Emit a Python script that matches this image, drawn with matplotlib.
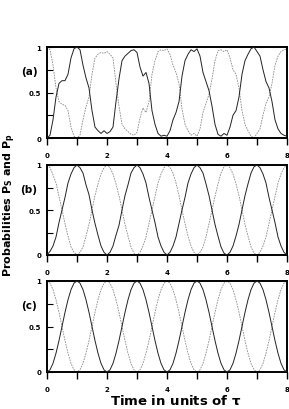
import matplotlib
matplotlib.use("Agg")
import matplotlib.pyplot as plt

# time grid (units of tau), read at 0.1 steps
t = [round(0.1 * i, 1) for i in range(81)]

# panel (a)
a_solid = [0.00, 0.03, 0.20, 0.45, 0.60, 0.63, 0.63, 0.70, 0.88, 0.98,
           1.00, 0.97, 0.80, 0.66, 0.55, 0.30, 0.12, 0.08, 0.05, 0.08,
           0.05, 0.07, 0.12, 0.40, 0.65, 0.85, 0.90, 0.93, 0.96, 0.97,
           0.94, 0.78, 0.68, 0.72, 0.60, 0.30, 0.15, 0.05, 0.02, 0.03,
           0.02, 0.08, 0.20, 0.28, 0.40, 0.68, 0.85, 0.92, 0.97, 0.95,
           0.98, 0.90, 0.72, 0.62, 0.52, 0.35, 0.15, 0.04, 0.02, 0.05,
           0.03, 0.12, 0.25, 0.30, 0.45, 0.70, 0.85, 0.92, 0.98, 1.00,
           0.95, 0.90, 0.75, 0.62, 0.55, 0.40, 0.20, 0.10, 0.05, 0.03,
           0.02]
a_dash = [1.00, 0.97, 0.80, 0.55, 0.40, 0.37, 0.36, 0.30, 0.12, 0.02,
          0.00, 0.03, 0.20, 0.34, 0.45, 0.70, 0.88, 0.92, 0.94, 0.93,
          0.95, 0.92, 0.88, 0.60, 0.35, 0.15, 0.10, 0.07, 0.04, 0.03,
          0.06, 0.22, 0.33, 0.28, 0.40, 0.70, 0.85, 0.95, 0.97, 0.96,
          0.98, 0.92, 0.80, 0.72, 0.60, 0.32, 0.15, 0.08, 0.03, 0.05,
          0.02, 0.10, 0.28, 0.38, 0.48, 0.65, 0.85, 0.96, 0.97, 0.95,
          0.97, 0.88, 0.75, 0.70, 0.55, 0.30, 0.15, 0.08, 0.02, 0.00,
          0.05, 0.10, 0.25, 0.38, 0.45, 0.60, 0.80, 0.90, 0.95, 0.97,
          0.98]

# panel (b)
b_solid = [0.00, 0.04, 0.10, 0.20, 0.36, 0.50, 0.64, 0.80, 0.90, 0.97,
           1.00, 0.97, 0.91, 0.78, 0.67, 0.50, 0.35, 0.22, 0.10, 0.03,
           0.00, 0.03, 0.10, 0.22, 0.33, 0.50, 0.66, 0.78, 0.91, 0.97,
           1.00, 0.97, 0.90, 0.80, 0.64, 0.50, 0.36, 0.20, 0.10, 0.03,
           0.00, 0.03, 0.10, 0.20, 0.35, 0.50, 0.64, 0.80, 0.90, 0.97,
           1.00, 0.97, 0.91, 0.79, 0.66, 0.50, 0.34, 0.21, 0.09, 0.02,
           0.00, 0.03, 0.10, 0.21, 0.34, 0.50, 0.66, 0.79, 0.91, 0.98,
           1.00, 0.97, 0.90, 0.80, 0.64, 0.50, 0.36, 0.20, 0.10, 0.03,
           0.00]
b_dash = [1.00, 0.97, 0.89, 0.80, 0.65, 0.50, 0.35, 0.21, 0.09, 0.03,
          0.00, 0.03, 0.09, 0.21, 0.34, 0.50, 0.66, 0.79, 0.90, 0.97,
          1.00, 0.97, 0.90, 0.79, 0.66, 0.50, 0.34, 0.21, 0.09, 0.02,
          0.00, 0.03, 0.10, 0.20, 0.35, 0.50, 0.65, 0.80, 0.90, 0.97,
          1.00, 0.97, 0.91, 0.80, 0.66, 0.50, 0.35, 0.21, 0.10, 0.03,
          0.00, 0.03, 0.09, 0.20, 0.35, 0.50, 0.65, 0.79, 0.91, 0.98,
          1.00, 0.97, 0.90, 0.79, 0.66, 0.50, 0.34, 0.21, 0.09, 0.02,
          0.00, 0.03, 0.10, 0.20, 0.35, 0.50, 0.65, 0.80, 0.90, 0.97,
          1.00]

# panel (c)
c_solid = [0.000, 0.024, 0.095, 0.206, 0.345, 0.500, 0.655, 0.794, 0.905, 0.976,
           1.000, 0.976, 0.905, 0.794, 0.655, 0.500, 0.345, 0.206, 0.095, 0.024,
           0.000, 0.024, 0.095, 0.206, 0.345, 0.500, 0.655, 0.794, 0.905, 0.976,
           1.000, 0.976, 0.905, 0.794, 0.655, 0.500, 0.345, 0.206, 0.095, 0.024,
           0.000, 0.024, 0.095, 0.206, 0.345, 0.500, 0.655, 0.794, 0.905, 0.976,
           1.000, 0.976, 0.905, 0.794, 0.655, 0.500, 0.345, 0.206, 0.095, 0.024,
           0.000, 0.024, 0.095, 0.206, 0.345, 0.500, 0.655, 0.794, 0.905, 0.976,
           1.000, 0.976, 0.905, 0.794, 0.655, 0.500, 0.345, 0.206, 0.095, 0.024,
           0.000]
c_dash = [1.000, 0.976, 0.905, 0.794, 0.655, 0.500, 0.345, 0.206, 0.095, 0.024,
          0.000, 0.024, 0.095, 0.206, 0.345, 0.500, 0.655, 0.794, 0.905, 0.976,
          1.000, 0.976, 0.905, 0.794, 0.655, 0.500, 0.345, 0.206, 0.095, 0.024,
          0.000, 0.024, 0.095, 0.206, 0.345, 0.500, 0.655, 0.794, 0.905, 0.976,
          1.000, 0.976, 0.905, 0.794, 0.655, 0.500, 0.345, 0.206, 0.095, 0.024,
          0.000, 0.024, 0.095, 0.206, 0.345, 0.500, 0.655, 0.794, 0.905, 0.976,
          1.000, 0.976, 0.905, 0.794, 0.655, 0.500, 0.345, 0.206, 0.095, 0.024,
          0.000, 0.024, 0.095, 0.206, 0.345, 0.500, 0.655, 0.794, 0.905, 0.976,
          1.000]

panel_labels = ["(a)", "(b)", "(c)"]
x_ticks = [0, 1, 2, 3, 4, 5, 6, 7, 8]
x_ticklabels = ["0", "", "2", "", "4", "", "6", "", "8"]
y_ticks = [0, 0.25, 0.5, 0.75, 1]
y_ticklabels = ["0", "", "0.5", "", "1"]

W, H = 289, 410
fig = plt.figure(figsize=(W / 100, H / 100), dpi=100)

# axes boxes in pixels: (top, bottom)
boxes = [(48, 139), (166, 256), (282, 373)]
left, right = 47, 287
series = [(a_solid, a_dash), (b_solid, b_dash), (c_solid, c_dash)]

for (top, bot), (s, d), lab in zip(boxes, series, panel_labels):
    ax = fig.add_axes([left / W, 1 - bot / H, (right - left) / W, (bot - top) / H])
    ax.plot(t, d, color="#888888", lw=0.6, ls=(0, (2, 1.2)), zorder=2)
    ax.plot(t, s, color="#222222", lw=0.7, zorder=3)
    ax.set_xlim(0, 8)
    ax.set_ylim(0, 1)
    ax.set_xticks(x_ticks)
    ax.set_xticklabels(x_ticklabels)
    ax.set_yticks(y_ticks)
    ax.set_yticklabels(y_ticklabels)
    ax.tick_params(axis="x", direction="out", length=5, width=1.0,
                   labelsize=5, pad=5)
    ax.tick_params(axis="y", direction="in", length=4, width=0.8,
                   labelsize=5, pad=4)
    for lbl in ax.get_xticklabels() + ax.get_yticklabels():
        lbl.set_fontweight("bold")
    for sp in ax.spines.values():
        sp.set_linewidth(1.4)
    fig.text(29 / W, 1 - (top + 24) / H, lab, fontsize=7.5, fontweight="bold",
             ha="center", va="center")

fig.text(10 / W, 1 - 205 / H, r"Probabilities $\mathbf{P_S}$ and $\mathbf{P_p}$",
         rotation=90, fontsize=8, fontweight="bold", ha="center", va="center")
fig.text(176 / W, 1 - 401 / H, r"Time in units of $\mathbf{\tau}$",
         fontsize=9.5, fontweight="bold", ha="center", va="center")

fig.savefig("out.png", dpi=100)
